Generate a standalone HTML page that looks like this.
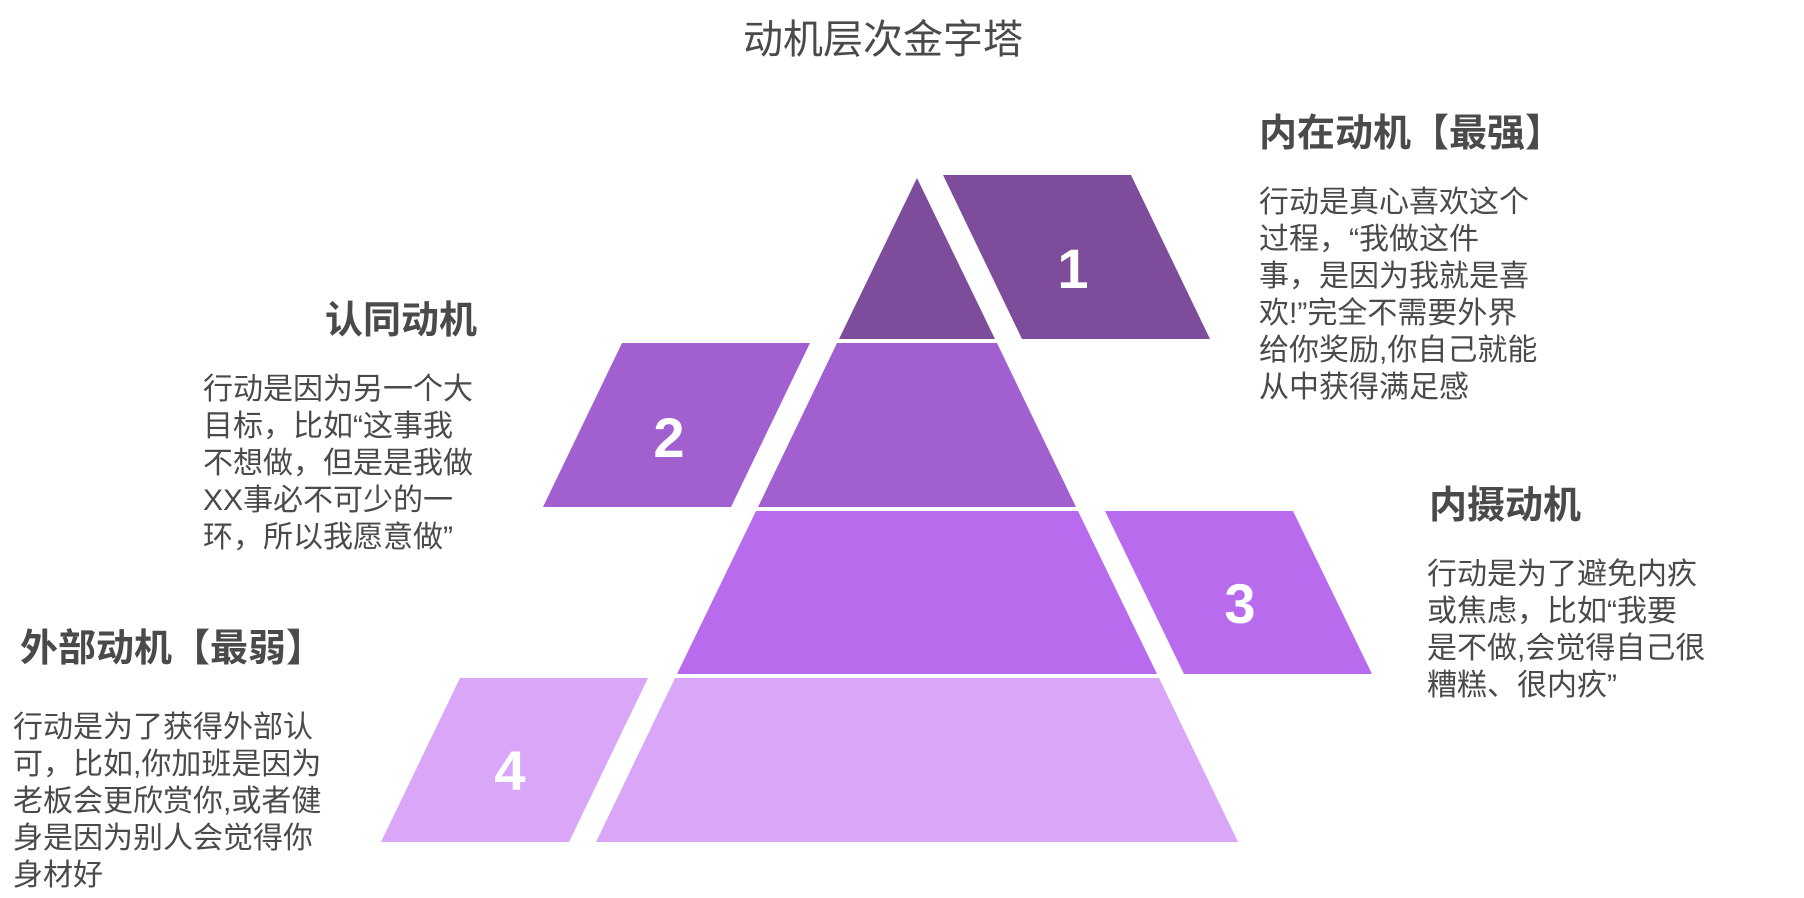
<!DOCTYPE html>
<html><head><meta charset="utf-8">
<style>
html,body{margin:0;padding:0;background:#fff;}
body{width:1804px;height:898px;position:relative;overflow:hidden;font-family:"Liberation Sans","Noto Sans CJK SC",sans-serif;color:#4a4a4a;}
.t{position:absolute;white-space:nowrap;}
.h{font-size:38px;font-weight:bold;line-height:44px;}
.b{font-size:30px;line-height:37px;}
</style></head><body>
<svg width="1804" height="898" style="position:absolute;left:0;top:0">
  <polygon points="917,178 995,339 839,339" fill="#7d4c9b"/>
  <polygon points="837,343 997,343 1076,507 758,507" fill="#a25fd0"/>
  <polygon points="756,511 1078,511 1157,674 677,674" fill="#b86bec"/>
  <polygon points="675,678 1159,678 1238,842 596,842" fill="#d9a6f8"/>
  <polygon points="943,175 1131,175 1210,339 1022,339" fill="#7d4c9b"/>
  <polygon points="622,343 810,343 731,507 543,507" fill="#a25fd0"/>
  <polygon points="1105,511 1293,511 1372,674 1184,674" fill="#b86bec"/>
  <polygon points="460,678 648,678 569,842 381,842" fill="#d9a6f8"/>
  <g fill="#fff" font-family="Liberation Sans, sans-serif" font-weight="bold" font-size="56" text-anchor="middle">
    <text x="1073" y="288">1</text>
    <text x="669" y="457">2</text>
    <text x="1240" y="623">3</text>
    <text x="510" y="790">4</text>
  </g>
</svg>
<div class="t" style="left:743px;top:15px;font-size:40px;line-height:50px;">动机层次金字塔</div>

<div class="t h" style="left:1259px;top:112px;">内在动机【最强】</div>
<div class="t b" style="left:1259px;top:184px;">行动是真心喜欢这个<br>过程，“我做这件<br>事，是因为我就是喜<br>欢!”完全不需要外界<br>给你奖励,你自己就能<br>从中获得满足感</div>

<div class="t h" style="left:325px;top:299px;">认同动机</div>
<div class="t b" style="left:203px;top:371px;">行动是因为另一个大<br>目标，比如“这事我<br>不想做，但是是我做<br>XX事必不可少的一<br>环，所以我愿意做”</div>

<div class="t h" style="left:1429px;top:484px;">内摄动机</div>
<div class="t b" style="left:1427px;top:556px;">行动是为了避免内疚<br>或焦虑，比如“我要<br>是不做,会觉得自己很<br>糟糕、很内疚”</div>

<div class="t h" style="left:20px;top:627px;">外部动机【最弱】</div>
<div class="t b" style="left:13px;top:709px;">行动是为了获得外部认<br>可，比如,你加班是因为<br>老板会更欣赏你,或者健<br>身是因为别人会觉得你<br>身材好</div>
</body></html>
